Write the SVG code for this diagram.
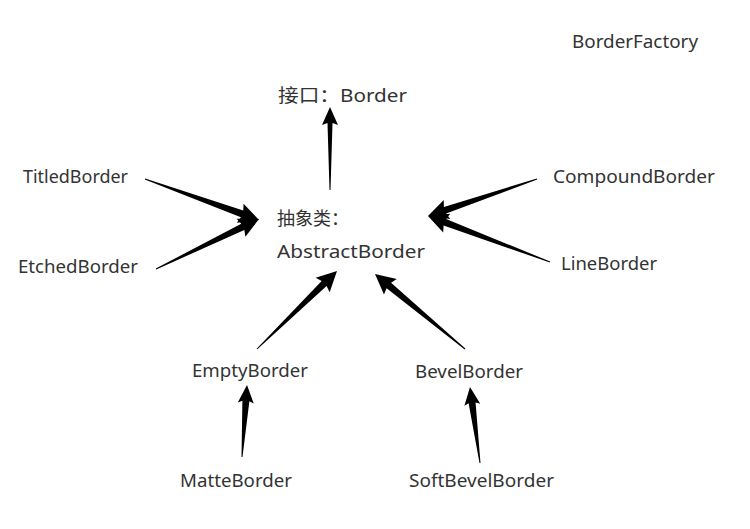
<svg xmlns="http://www.w3.org/2000/svg" width="750" height="529" viewBox="0 0 750 529">
<style>
text{font-family:"Noto Sans","Open Sans","Noto Sans CJK SC",sans-serif;font-size:18px;fill:#333}
.arr{fill:#000}
</style>
<rect width="750" height="529" fill="#fff"/>
<g id="connectors">
<polygon class="arr" points="330.5,190 332.5,123 338,125 330,107 322,125 327.5,123 329.5,190"/>
<polygon class="arr" points="144.83,179.47 240.88,217.2 236.79,222.64 259,220 243.57,203.82 243.24,210.62 145.17,178.53"/>
<polygon class="arr" points="156.22,269.45 244.34,230.01 245.38,236.73 259,219 236.64,218.73 241.28,223.71 155.78,268.55"/>
<polygon class="arr" points="536.84,178.53 443.92,206.9 443.72,200.1 428,216 450.16,219.04 446.18,213.52 537.16,179.47"/>
<polygon class="arr" points="550.18,261.53 446.07,219.08 450.24,213.7 428,216 443.18,232.42 443.61,225.62 549.82,262.47"/>
<polygon class="arr" points="257.35,349.36 326.55,286.08 329.66,292.13 337,271 315.7,277.81 321.67,281.06 256.65,348.64"/>
<polygon class="arr" points="242.5,457.03 249.38,401.2 253.73,403.51 247,385 237.77,402.41 242.4,400.72 241.5,456.97"/>
<polygon class="arr" points="465.32,348.62 391.07,282.83 396.77,279.12 375,274 383.97,294.48 386.59,288.21 464.68,349.38"/>
<polygon class="arr" points="480.5,462.93 475.56,402.39 480.28,403.79 470,387 464.42,405.87 468.62,403.31 479.5,463.07"/>
</g>
<g id="BorderFactory"><text x="572" y="48" textLength="126" lengthAdjust="spacingAndGlyphs">BorderFactory</text></g>
<g id="Border"><text x="278" y="102" textLength="129" lengthAdjust="spacingAndGlyphs">接口：Border</text></g>
<g id="AbstractBorder"><text x="277" y="225">抽象类：</text><text x="277" y="258" textLength="148" lengthAdjust="spacingAndGlyphs">AbstractBorder</text></g>
<g id="TitledBorder"><text x="23" y="183" textLength="105" lengthAdjust="spacingAndGlyphs">TitledBorder</text></g>
<g id="EtchedBorder"><text x="18" y="273" textLength="120" lengthAdjust="spacingAndGlyphs">EtchedBorder</text></g>
<g id="CompoundBorder"><text x="553" y="183" textLength="162" lengthAdjust="spacingAndGlyphs">CompoundBorder</text></g>
<g id="LineBorder"><text x="561" y="270" textLength="96" lengthAdjust="spacingAndGlyphs">LineBorder</text></g>
<g id="EmptyBorder"><text x="192" y="377" textLength="116" lengthAdjust="spacingAndGlyphs">EmptyBorder</text></g>
<g id="BevelBorder"><text x="415" y="378" textLength="108" lengthAdjust="spacingAndGlyphs">BevelBorder</text></g>
<g id="MatteBorder"><text x="180" y="487" textLength="112" lengthAdjust="spacingAndGlyphs">MatteBorder</text></g>
<g id="SoftBevelBorder"><text x="409" y="487" textLength="145" lengthAdjust="spacingAndGlyphs">SoftBevelBorder</text></g>
</svg>
